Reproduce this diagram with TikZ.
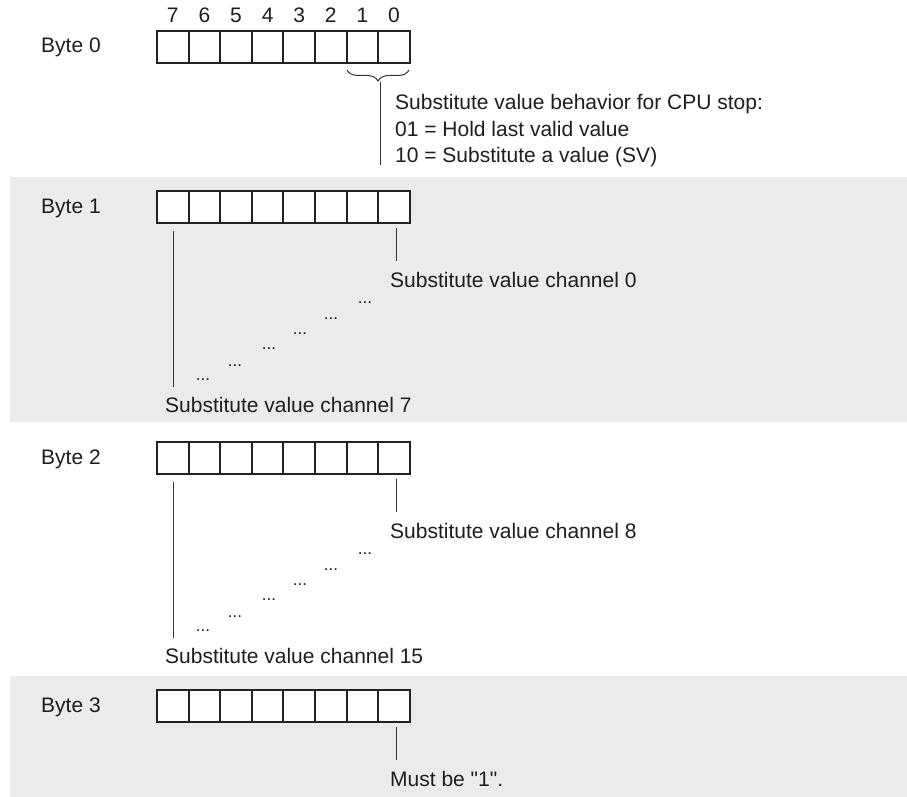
\documentclass[tikz,border=0pt]{standalone}
\usepackage{fontspec}
\setmainfont{Liberation Sans}[Ligatures=TeXOff]
\usetikzlibrary{decorations.pathreplacing}
\definecolor{txt}{HTML}{1E1E1E}
\definecolor{boxc}{HTML}{222222}
\definecolor{linec}{HTML}{333333}
\definecolor{bandc}{HTML}{EBEBEB}
\begin{document}
\begin{tikzpicture}[x=1pt,y=-1pt,
  lbl/.style={font=\fontsize{21}{26}\selectfont, text=txt, inner sep=0pt, anchor=base west},
  bitnum/.style={font=\fontsize{21}{26}\selectfont, text=txt, inner sep=0pt, anchor=base},
  cell/.style={draw=boxc, line width=2pt, fill=white, minimum width=31.6pt, minimum height=32pt, inner sep=0pt, outer sep=0pt},
  conn/.style={draw=linec, line width=1pt},
  dotsn/.style={font=\fontsize{17}{17}\selectfont, text=txt, inner sep=0pt, anchor=base},
  band/.style={fill=bandc, draw=none}]
\useasboundingbox (0,0) rectangle (907,797);
\fill[white] (0,0) rectangle (907,797);
\path[band] (10,177) rectangle (907,422);
\path[band] (10,676) rectangle (907,797);

% registers
\foreach \r/\y in {0/47, 1/207, 2/457.5, 3/706} {
  \foreach \i in {0,...,7} {
    \pgfmathtruncatemacro\b{7-\i}
    \node[cell] (r\r b\b) at ({157+31.6*(\i+0.5)}, \y) {};
  }
}

% byte labels
\node[lbl] (byte0) at (41,53) {Byte 0};
\node[lbl] (byte1) at (41,213) {Byte 1};
\node[lbl] (byte2) at (41,464) {Byte 2};
\node[lbl] (byte3) at (41,712) {Byte 3};

% bit numbers
\foreach \b in {0,...,7} {
  \node[bitnum] (n\b) at (r0b\b.center |- 0,23) {\b};
}

% byte 0 brace and description
\coordinate (brL) at (347,70);
\coordinate (brR) at (409,70);
\coordinate (brT) at (380,82);
\coordinate (cpuEnd) at (380,165);
\draw[conn, decorate, decoration={brace, mirror, amplitude=11pt}] (brL) -- (brR);
\draw[conn] (brT) -- (cpuEnd);
\node[lbl] (cpu1) at (395,110) {Substitute value behavior for CPU stop:};
\node[lbl] (cpu2) at (395,136) {01 = Hold last valid value};
\node[lbl] (cpu3) at (395,162) {10 = Substitute a value (SV)};

% byte 1
\coordinate (r1rt) at (396,228);
\coordinate (r1rb) at (396,261);
\coordinate (r1lt) at (173,231);
\coordinate (r1lb) at (173,387);
\draw[conn] (r1rt) -- (r1rb);
\draw[conn] (r1lt) -- (r1lb);
\node[lbl] (ch0) at (390,287) {Substitute value channel 0};
\node[lbl] (ch7) at (165,412) {Substitute value channel 7};
\foreach \k/\x/\yy in {1/365/302, 2/331/318, 3/300/333, 4/269/348, 5/235/365, 6/203/379} {
  \node[dotsn] (d1\k) at (\x,\yy+1) {...};
}

% byte 2
\coordinate (r2rt) at (396,479);
\coordinate (r2rb) at (396,512);
\coordinate (r2lt) at (173,482);
\coordinate (r2lb) at (173,638);
\draw[conn] (r2rt) -- (r2rb);
\draw[conn] (r2lt) -- (r2lb);
\node[lbl] (ch8) at (390,538) {Substitute value channel 8};
\node[lbl] (ch15) at (165,663) {Substitute value channel 15};
\foreach \k/\x/\yy in {1/365/553, 2/331/569, 3/300/584, 4/269/599, 5/235/616, 6/203/630} {
  \node[dotsn] (d2\k) at (\x,\yy+1) {...};
}

% byte 3
\coordinate (r3rt) at (396,727);
\coordinate (r3rb) at (396,760);
\draw[conn] (r3rt) -- (r3rb);
\node[lbl] (must) at (390,786) {Must be "1".};
\end{tikzpicture}
\end{document}
